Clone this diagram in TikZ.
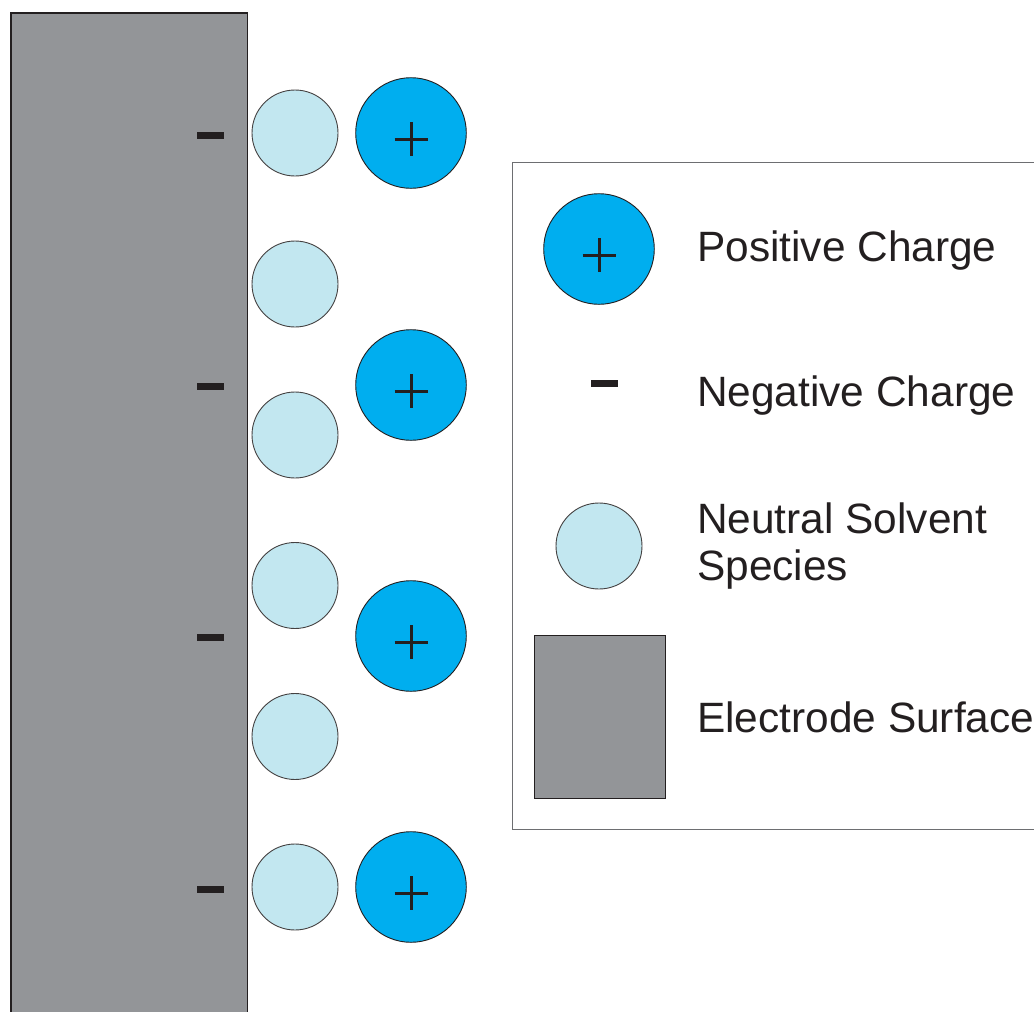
\documentclass[tikz,border=0pt]{standalone}
\usepackage{fontspec}
\setmainfont{Liberation Sans}
\definecolor{inkc}{HTML}{231F20}
\definecolor{posfill}{HTML}{00AEEF}
\definecolor{neufill}{HTML}{C2E7F0}
\definecolor{electrodefill}{HTML}{939598}
\definecolor{boxline}{HTML}{6D6E71}
\begin{document}
\begin{tikzpicture}[x=1pt,y=-1pt,
  posion/.style={circle,draw=inkc,line width=0.9pt,fill=posfill,minimum size=110.6pt,inner sep=0pt},
  neutral/.style={circle,draw=inkc!85,line width=0.9pt,fill=neufill,minimum size=86pt,inner sep=0pt},
  plusbar/.style={draw=inkc,line width=3pt},
  minusbar/.style={rectangle,fill=inkc,minimum width=27pt,minimum height=7pt,inner sep=0pt},
  electrodebox/.style={rectangle,fill=electrodefill,inner sep=0pt,anchor=north west},
  legendbox/.style={rectangle,draw=boxline,line width=1pt,fill=white,inner sep=0pt,anchor=north west,minimum width=540pt,minimum height=667pt},
  label/.style={anchor=base west,inner sep=0pt,text=inkc,font=\fontsize{42.4}{47}\selectfont}
]
\useasboundingbox (0,0) rectangle (1034,1012);
% electrode
\node[electrodebox,minimum width=236pt,minimum height=1010pt] (electrode) at (11,13) {};
\draw[inkc,line width=1.2pt] (electrode.south west) -- (electrode.north west) -- (electrode.north east) -- (electrode.south east);
% minus charges on surface
\foreach \i/\y in {1/135.5,2/386.5,3/637.5,4/889}
  \node[minusbar] (m\i) at (210.5,\y) {};
% neutral solvent species
\foreach \i/\y in {1/133,2/284,3/435,4/585.5,5/736.5,6/887}
  \node[neutral] (n\i) at (295,\y) {};
% positive ions
\foreach \i/\y in {1/133,2/385,3/636,4/887}{
  \node[posion] (p\i) at (411,\y) {};
  \draw[plusbar] ([yshift=-6pt]p\i.center) ++(-16.5,0) -- ++(33,0);
  \draw[plusbar] ([yshift=-6pt]p\i.center) ++(0,-17) -- ++(0,34);
}
% legend
\node[legendbox] (legend) at (512,162) {};
\node[posion] (lp) at (599,249) {};
\draw[plusbar] ([yshift=-6pt]lp.center) ++(-16.5,0) -- ++(33,0);
\draw[plusbar] ([yshift=-6pt]lp.center) ++(0,-17) -- ++(0,34);
\node[label] (tpos) at (697,261) {Positive Charge};
\node[minusbar] (lm) at (604,383) {};
\node[label] (tneg) at (697,406) {Negative Charge};
\node[neutral] (ln) at (599,546) {};
\node[label] (tneu1) at (697,533) {Neutral Solvent};
\node[label] (tneu2) at (697,580) {Species};
\node[rectangle,draw=inkc,line width=1pt,fill=electrodefill,minimum width=131pt,minimum height=163pt,inner sep=0pt,anchor=north west] (le) at (534,635) {};
\node[label] (tel) at (697,732) {Electrode Surface};
\end{tikzpicture}
\end{document}
